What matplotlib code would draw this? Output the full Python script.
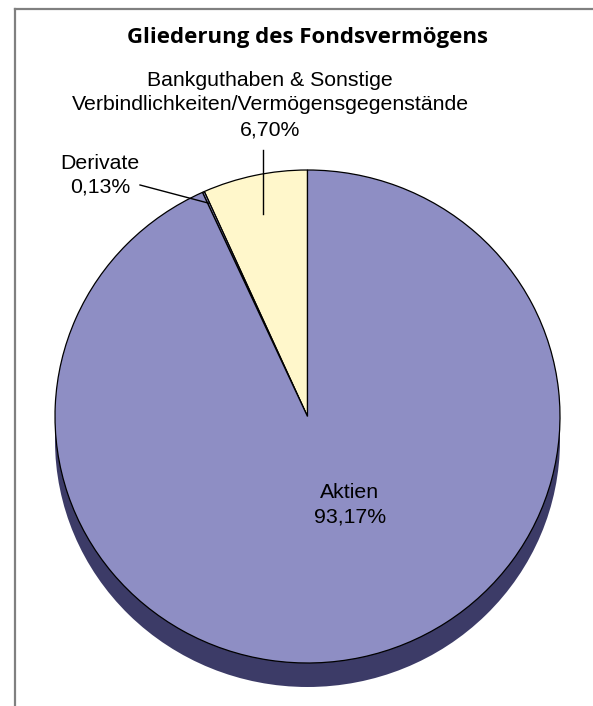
import numpy as np
import matplotlib
matplotlib.use("Agg")
import matplotlib.pyplot as plt
from matplotlib.patches import Ellipse, Rectangle
from matplotlib.lines import Line2D

plt.rcParams["font.family"] = ["Liberation Sans", "DejaVu Sans"]

# Data
labels = ["Bankguthaben & Sonstige\nVerbindlichkeiten/Vermögensgegenstände", "Derivate", "Aktien"]
values = [6.70, 0.13, 93.17]
value_text = ["6,70%", "0,13%", "93,17%"]
colors = ["#FFF7CB", "#8E8EC4", "#8E8EC4"]
title = "Gliederung des Fondsvermögens"

W, H = 593, 706
fig = plt.figure(figsize=(W / 100, H / 100), dpi=100)

# pie geometry in pixels
cx, cy, rx, ry, depth = 307.5, 416.5, 252.5, 246.5, 24


def to_data(px, py):
    return (px - cx) / rx, (cy - py) / ry


ax = fig.add_axes([(cx - rx) / W, (H - cy - ry) / H, 2 * rx / W, 2 * ry / H])

# 3D side of the pie
d = depth / ry
dark = "#3C3B67"
ax.add_patch(Ellipse((0, -d), 2, 2, facecolor=dark, edgecolor="none", clip_on=False, zorder=0))
ax.add_patch(Rectangle((-1, -d), 2, d, facecolor=dark, edgecolor="none", clip_on=False, zorder=0))

wedges, _ = ax.pie(
    values,
    colors=colors,
    startangle=90,
    counterclock=True,
    radius=1,
    wedgeprops=dict(edgecolor="black", linewidth=0.9),
    frame=True,
)
ax.set_xlim(-1, 1)
ax.set_ylim(-1, 1)
ax.set_aspect("auto")
ax.axis("off")
for w in wedges:
    w.set_clip_on(False)

fs = 15.3
ls = 1.38

# Aktien label inside the slice
x, y = to_data(350, 505)
ax.text(x, y, f"{labels[2]}\n{value_text[2]}", ha="center", va="center",
        fontsize=fs, linespacing=ls)

# Bankguthaben label with leader
x, y = to_data(270, 105)
ax.text(x, y, f"{labels[0]}\n{value_text[0]}", ha="center", va="center",
        fontsize=fs, linespacing=ls)
w = wedges[0]
ang = np.deg2rad((w.theta1 + w.theta2) / 2)
x1, y1 = 0.84 * np.cos(ang), 0.84 * np.sin(ang)
_, y0 = to_data(268, 150)
ax.plot([x1, x1], [y0, y1], color="black", lw=1.0, clip_on=False)

# Derivate label with leader
x, y = to_data(100, 175.5)
ax.text(x, y, f"{labels[1]}\n{value_text[1]}", ha="center", va="center",
        fontsize=fs, linespacing=1.3)
w = wedges[1]
ang = np.deg2rad((w.theta1 + w.theta2) / 2)
x0, y0 = to_data(140, 185)
ax.plot([x0, 0.95 * np.cos(ang)], [y0, 0.95 * np.sin(ang)], color="black", lw=1.0, clip_on=False)

# Title
fig.text(cx / W, 1 - 38 / H, title, ha="center", va="center",
         fontsize=16, fontweight="bold", family=["Open Sans", "DejaVu Sans"])

# frame lines (left and top)
fig.add_artist(Line2D([14.5 / W, 14.5 / W], [0, 1 - 8.5 / H], transform=fig.transFigure,
                      color="#808080", lw=1.6))
fig.add_artist(Line2D([14.5 / W, 1], [1 - 8.5 / H, 1 - 8.5 / H], transform=fig.transFigure,
                      color="#808080", lw=1.6))

fig.savefig("out.png", dpi=100)
